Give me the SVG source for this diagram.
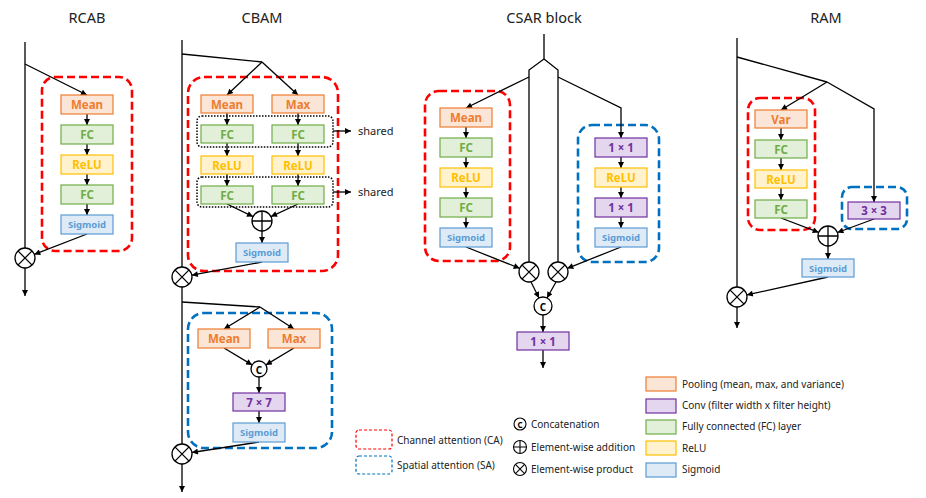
<svg xmlns="http://www.w3.org/2000/svg" width="926" height="498" viewBox="0 0 926 498">
<defs>
<marker id="ah" viewBox="0 0 10 10" refX="10" refY="5" markerWidth="7" markerHeight="6" orient="auto" markerUnits="userSpaceOnUse"><path d="M0,0 L10,5 L0,10 z" fill="#000"/></marker>
<style>
text{font-family:"Noto Sans","DejaVu Sans",sans-serif}
.title{font-size:14.5px;fill:#222;text-anchor:middle}
.lbl{font-size:11.5px;font-weight:bold;text-anchor:middle;dominant-baseline:central}
.sm{font-size:9.5px}
.pool rect{fill:#FBE5D6;stroke:#ED7D31}.pool text{fill:#ED7D31}
.conv rect{fill:#E4D6EE;stroke:#7030A0}.conv text{fill:#7030A0}
.fc rect{fill:#E2F0D9;stroke:#70AD47}.fc text{fill:#70AD47}
.relu rect{fill:#FFF2CC;stroke:#FFC000}.relu text{fill:#FFC000}
.sig rect{fill:#DEEBF7;stroke:#5B9BD5}.sig text{fill:#5B9BD5}
rect{stroke-width:1.2}
.ca{fill:none;stroke:#FF0000;stroke-width:2.6;stroke-dasharray:8 4}
.sa{fill:none;stroke:#0070C0;stroke-width:2.6;stroke-dasharray:8 4}
.dot{fill:none;stroke:#000;stroke-width:1.5;stroke-dasharray:1.5 1.5}
.ln{fill:none;stroke:#000;stroke-width:1.3}
.ar{fill:none;stroke:#000;stroke-width:1.3;marker-end:url(#ah)}
.op{fill:#fff;stroke:#000;stroke-width:1.3}
.shr{font-size:11px;fill:#222}
.leg{font-size:10px;fill:#222}
</style>
</defs>
<rect width="926" height="498" fill="#fff"/>

<text class="title" x="87" y="23">RCAB</text>
<text class="title" x="262" y="23">CBAM</text>
<text class="title" x="544" y="23">CSAR block</text>
<text class="title" x="826" y="23">RAM</text>

<!-- attention frames -->
<g id="frames">
<rect class="ca" x="42" y="77" width="90" height="174" rx="13"/>
<rect class="ca" x="188" y="77" width="150" height="194" rx="16"/>
<rect class="dot" x="197" y="116" width="136" height="31" rx="5"/>
<rect class="dot" x="197" y="177" width="136" height="30" rx="5"/>
<rect class="sa" x="188" y="313" width="144" height="135" rx="16"/>
<rect class="ca" x="425" y="91" width="85" height="170" rx="14"/>
<rect class="sa" x="578" y="125" width="81" height="137" rx="14"/>
<rect class="ca" x="748" y="98" width="67" height="132" rx="12"/>
<rect class="sa" x="842" y="187" width="65" height="42" rx="10"/>
</g>

<!-- connectors -->
<g id="connectors">
<!-- RCAB -->
<path class="ln" d="M25,42 V248"/>
<path class="ar" d="M25,64 L87,95"/>
<path class="ar" d="M87,114 V125"/>
<path class="ar" d="M87,144 V155"/>
<path class="ar" d="M87,174 V185"/>
<path class="ar" d="M87,204 V215"/>
<path class="ar" d="M87,234 L34.3,254.4"/>
<path class="ar" d="M25,268 V296"/>
<!-- CBAM channel -->
<path class="ln" d="M182,40 V267"/>
<path class="ln" d="M182,54 L262,62"/>
<path class="ar" d="M262,62 L227,95"/>
<path class="ar" d="M262,62 L298,95"/>
<path class="ar" d="M227,113 V125"/>
<path class="ar" d="M298,113 V125"/>
<path class="ar" d="M227,143 V156"/>
<path class="ar" d="M298,143 V156"/>
<path class="ar" d="M227,174 V186"/>
<path class="ar" d="M298,174 V186"/>
<path class="ar" d="M227,204 L253,216.6"/>
<path class="ar" d="M298,204 L271,216.6"/>
<path class="ar" d="M262,231 V243"/>
<path class="ar" d="M262,262 L191.8,275.2"/>
<path class="ar" d="M333,131 H351"/>
<path class="ar" d="M333,192 H351"/>
<!-- CBAM spatial -->
<path class="ln" d="M182,287 V444"/>
<path class="ln" d="M182,302 L260,307"/>
<path class="ar" d="M260,307 L224,329"/>
<path class="ar" d="M260,307 L294,329"/>
<path class="ar" d="M224,348 L252.1,364.9"/>
<path class="ar" d="M294,348 L265.9,364.9"/>
<path class="ar" d="M259,377 V393"/>
<path class="ar" d="M259,411 V423"/>
<path class="ar" d="M259,442 L191.9,452.5"/>
<path class="ar" d="M182,464 V492"/>
<!-- CSAR -->
<path class="ln" d="M544,34 V59 L529,70 V262"/>
<path class="ln" d="M544,59 L558,70 V262"/>
<path class="ar" d="M529,77 L466,108"/>
<path class="ar" d="M558,77 L621,108 V138"/>
<path class="ar" d="M466,127 V138"/>
<path class="ar" d="M466,157 V168"/>
<path class="ar" d="M466,187 V198"/>
<path class="ar" d="M466,217 V228"/>
<path class="ar" d="M621,157 V168"/>
<path class="ar" d="M621,187 V198"/>
<path class="ar" d="M621,217 V228"/>
<path class="ar" d="M466,247 L519.7,268.3"/>
<path class="ar" d="M621,247 L567.3,268.3"/>
<path class="ar" d="M531,282 L539,298"/>
<path class="ar" d="M556,282 L547,298"/>
<path class="ar" d="M543,315 V332"/>
<path class="ar" d="M543,350 V368"/>
<!-- RAM -->
<path class="ln" d="M737,38 V287"/>
<path class="ln" d="M737,57 L827,82"/>
<path class="ar" d="M827,82 L781,110"/>
<path class="ar" d="M827,82 L874,109 V202"/>
<path class="ar" d="M781,128 V140"/>
<path class="ar" d="M781,158 V170"/>
<path class="ar" d="M781,188 V200"/>
<path class="ar" d="M781,218 L818.7,232.4"/>
<path class="ar" d="M874,219 L837.4,232.5"/>
<path class="ar" d="M828,246 V259"/>
<path class="ar" d="M828,277 L746.8,294.9"/>
<path class="ar" d="M737,307 V328"/>
</g>

<text class="shr" x="358" y="135">shared</text>
<text class="shr" x="358" y="196">shared</text>

<!-- RCAB nodes -->
<g id="rcab-mean" class="pool"><rect x="61" y="95" width="52" height="19"/><text class="lbl" x="87" y="104.5">Mean</text></g>
<g id="rcab-fc1" class="fc"><rect x="61" y="125" width="52" height="19"/><text class="lbl" x="87" y="134.5">FC</text></g>
<g id="rcab-relu" class="relu"><rect x="61" y="155" width="52" height="19"/><text class="lbl" x="87" y="164.5">ReLU</text></g>
<g id="rcab-fc2" class="fc"><rect x="61" y="185" width="52" height="19"/><text class="lbl" x="87" y="194.5">FC</text></g>
<g id="rcab-sig" class="sig"><rect x="61" y="215" width="52" height="19"/><text class="lbl sm" x="87" y="224.5">Sigmoid</text></g>
<g id="rcab-mul"><circle class="op" cx="25" cy="258" r="10"/><path class="ln" d="M17.9,250.9 L32.1,265.1 M32.1,250.9 L17.9,265.1"/></g>

<!-- CBAM nodes -->
<g id="cbam-mean" class="pool"><rect x="201" y="95" width="52" height="18"/><text class="lbl" x="227" y="104">Mean</text></g>
<g id="cbam-max" class="pool"><rect x="272" y="95" width="52" height="18"/><text class="lbl" x="298" y="104">Max</text></g>
<g id="cbam-fc1a" class="fc"><rect x="201" y="125" width="52" height="18"/><text class="lbl" x="227" y="134">FC</text></g>
<g id="cbam-fc1b" class="fc"><rect x="272" y="125" width="52" height="18"/><text class="lbl" x="298" y="134">FC</text></g>
<g id="cbam-relua" class="relu"><rect x="201" y="156" width="52" height="18"/><text class="lbl" x="227" y="165">ReLU</text></g>
<g id="cbam-relub" class="relu"><rect x="272" y="156" width="52" height="18"/><text class="lbl" x="298" y="165">ReLU</text></g>
<g id="cbam-fc2a" class="fc"><rect x="201" y="186" width="52" height="18"/><text class="lbl" x="227" y="195">FC</text></g>
<g id="cbam-fc2b" class="fc"><rect x="272" y="186" width="52" height="18"/><text class="lbl" x="298" y="195">FC</text></g>
<g id="cbam-add"><circle class="op" cx="262" cy="221" r="10"/><path class="ln" d="M252,221 H272 M262,211 V231"/></g>
<g id="cbam-sig1" class="sig"><rect x="236" y="243" width="52" height="19"/><text class="lbl sm" x="262" y="252.5">Sigmoid</text></g>
<g id="cbam-mul1"><circle class="op" cx="182" cy="277" r="10"/><path class="ln" d="M174.9,269.9 L189.1,284.1 M189.1,269.9 L174.9,284.1"/></g>
<g id="cbam-smean" class="pool"><rect x="198" y="329" width="52" height="19"/><text class="lbl" x="224" y="338.5">Mean</text></g>
<g id="cbam-smax" class="pool"><rect x="268" y="329" width="52" height="19"/><text class="lbl" x="294" y="338.5">Max</text></g>
<g id="cbam-cat"><circle class="op" cx="259" cy="369" r="8"/><text class="lbl" x="259" y="369.5" style="font-size:10px">C</text></g>
<g id="cbam-conv" class="conv"><rect x="233" y="393" width="52" height="18"/><text class="lbl" x="259" y="402">7 × 7</text></g>
<g id="cbam-sig2" class="sig"><rect x="233" y="423" width="52" height="19"/><text class="lbl sm" x="259" y="432.5">Sigmoid</text></g>
<g id="cbam-mul2"><circle class="op" cx="182" cy="454" r="10"/><path class="ln" d="M174.9,446.9 L189.1,461.1 M189.1,446.9 L174.9,461.1"/></g>

<!-- CSAR nodes -->
<g id="csar-mean" class="pool"><rect x="440" y="108" width="52" height="19"/><text class="lbl" x="466" y="117.5">Mean</text></g>
<g id="csar-fc1" class="fc"><rect x="440" y="138" width="52" height="19"/><text class="lbl" x="466" y="147.5">FC</text></g>
<g id="csar-relu1" class="relu"><rect x="440" y="168" width="52" height="19"/><text class="lbl" x="466" y="177.5">ReLU</text></g>
<g id="csar-fc2" class="fc"><rect x="440" y="198" width="52" height="19"/><text class="lbl" x="466" y="207.5">FC</text></g>
<g id="csar-sig1" class="sig"><rect x="440" y="228" width="52" height="19"/><text class="lbl sm" x="466" y="237.5">Sigmoid</text></g>
<g id="csar-conv1" class="conv"><rect x="595" y="138" width="52" height="19"/><text class="lbl" x="621" y="147.5">1 × 1</text></g>
<g id="csar-relu2" class="relu"><rect x="595" y="168" width="52" height="19"/><text class="lbl" x="621" y="177.5">ReLU</text></g>
<g id="csar-conv2" class="conv"><rect x="595" y="198" width="52" height="19"/><text class="lbl" x="621" y="207.5">1 × 1</text></g>
<g id="csar-sig2" class="sig"><rect x="595" y="228" width="52" height="19"/><text class="lbl sm" x="621" y="237.5">Sigmoid</text></g>
<g id="csar-mul1"><circle class="op" cx="529" cy="272" r="10"/><path class="ln" d="M521.9,264.9 L536.1,279.1 M536.1,264.9 L521.9,279.1"/></g>
<g id="csar-mul2"><circle class="op" cx="558" cy="272" r="10"/><path class="ln" d="M550.9,264.9 L565.1,279.1 M565.1,264.9 L550.9,279.1"/></g>
<g id="csar-cat"><circle class="op" cx="543" cy="306" r="9"/><text class="lbl" x="543" y="306.5" style="font-size:10px">C</text></g>
<g id="csar-conv3" class="conv"><rect x="517" y="332" width="52" height="18"/><text class="lbl" x="543" y="341">1 × 1</text></g>

<!-- RAM nodes -->
<g id="ram-var" class="pool"><rect x="755" y="110" width="52" height="18"/><text class="lbl" x="781" y="119">Var</text></g>
<g id="ram-fc1" class="fc"><rect x="755" y="140" width="52" height="18"/><text class="lbl" x="781" y="149">FC</text></g>
<g id="ram-relu" class="relu"><rect x="755" y="170" width="52" height="18"/><text class="lbl" x="781" y="179">ReLU</text></g>
<g id="ram-fc2" class="fc"><rect x="755" y="200" width="52" height="18"/><text class="lbl" x="781" y="209">FC</text></g>
<g id="ram-conv" class="conv"><rect x="848" y="202" width="52" height="17"/><text class="lbl" x="874" y="210.5">3 × 3</text></g>
<g id="ram-add"><circle class="op" cx="828" cy="236" r="10"/><path class="ln" d="M818,236 H838 M828,226 V246"/></g>
<g id="ram-sig" class="sig"><rect x="802" y="259" width="52" height="18"/><text class="lbl sm" x="828" y="268">Sigmoid</text></g>
<g id="ram-mul"><circle class="op" cx="737" cy="297" r="10"/><path class="ln" d="M729.9,289.9 L744.1,304.1 M744.1,289.9 L729.9,304.1"/></g>

<!-- legend -->
<g id="legend">
<rect x="356" y="430" width="36" height="19" rx="3" fill="none" stroke="#FF0000" stroke-width="1.4" stroke-dasharray="3 2"/>
<text class="leg" x="397" y="444">Channel attention (CA)</text>
<rect x="356" y="456" width="36" height="18" rx="3" fill="none" stroke="#0070C0" stroke-width="1.4" stroke-dasharray="3 2"/>
<text class="leg" x="397" y="469">Spatial attention (SA)</text>
<circle cx="520" cy="424" r="6" fill="#fff" stroke="#000" stroke-width="1.1"/>
<text class="lbl" x="520" y="424.5" style="font-size:8px">C</text>
<text class="leg" x="531" y="428">Concatenation</text>
<circle cx="520" cy="447" r="6.5" fill="#fff" stroke="#000" stroke-width="1.1"/>
<path d="M513.5,447 H526.5 M520,440.5 V453.5" stroke="#000" stroke-width="1.1"/>
<text class="leg" x="531" y="451">Element-wise addition</text>
<circle cx="520" cy="469" r="6.5" fill="#fff" stroke="#000" stroke-width="1.1"/>
<path d="M515.4,464.4 L524.6,473.6 M524.6,464.4 L515.4,473.6" stroke="#000" stroke-width="1.1"/>
<text class="leg" x="531" y="473">Element-wise product</text>
<g class="pool"><rect x="646" y="377" width="30" height="14"/></g>
<text class="leg" x="682" y="388">Pooling (mean, max, and variance)</text>
<g class="conv"><rect x="646" y="399" width="30" height="14"/></g>
<text class="leg" x="682" y="409">Conv (filter width x filter height)</text>
<g class="fc"><rect x="646" y="420" width="30" height="14"/></g>
<text class="leg" x="682" y="430">Fully connected (FC) layer</text>
<g class="relu"><rect x="646" y="441" width="30" height="14"/></g>
<text class="leg" x="682" y="452">ReLU</text>
<g class="sig"><rect x="646" y="463" width="30" height="14"/></g>
<text class="leg" x="682" y="473">Sigmoid</text>
</g>
</svg>
